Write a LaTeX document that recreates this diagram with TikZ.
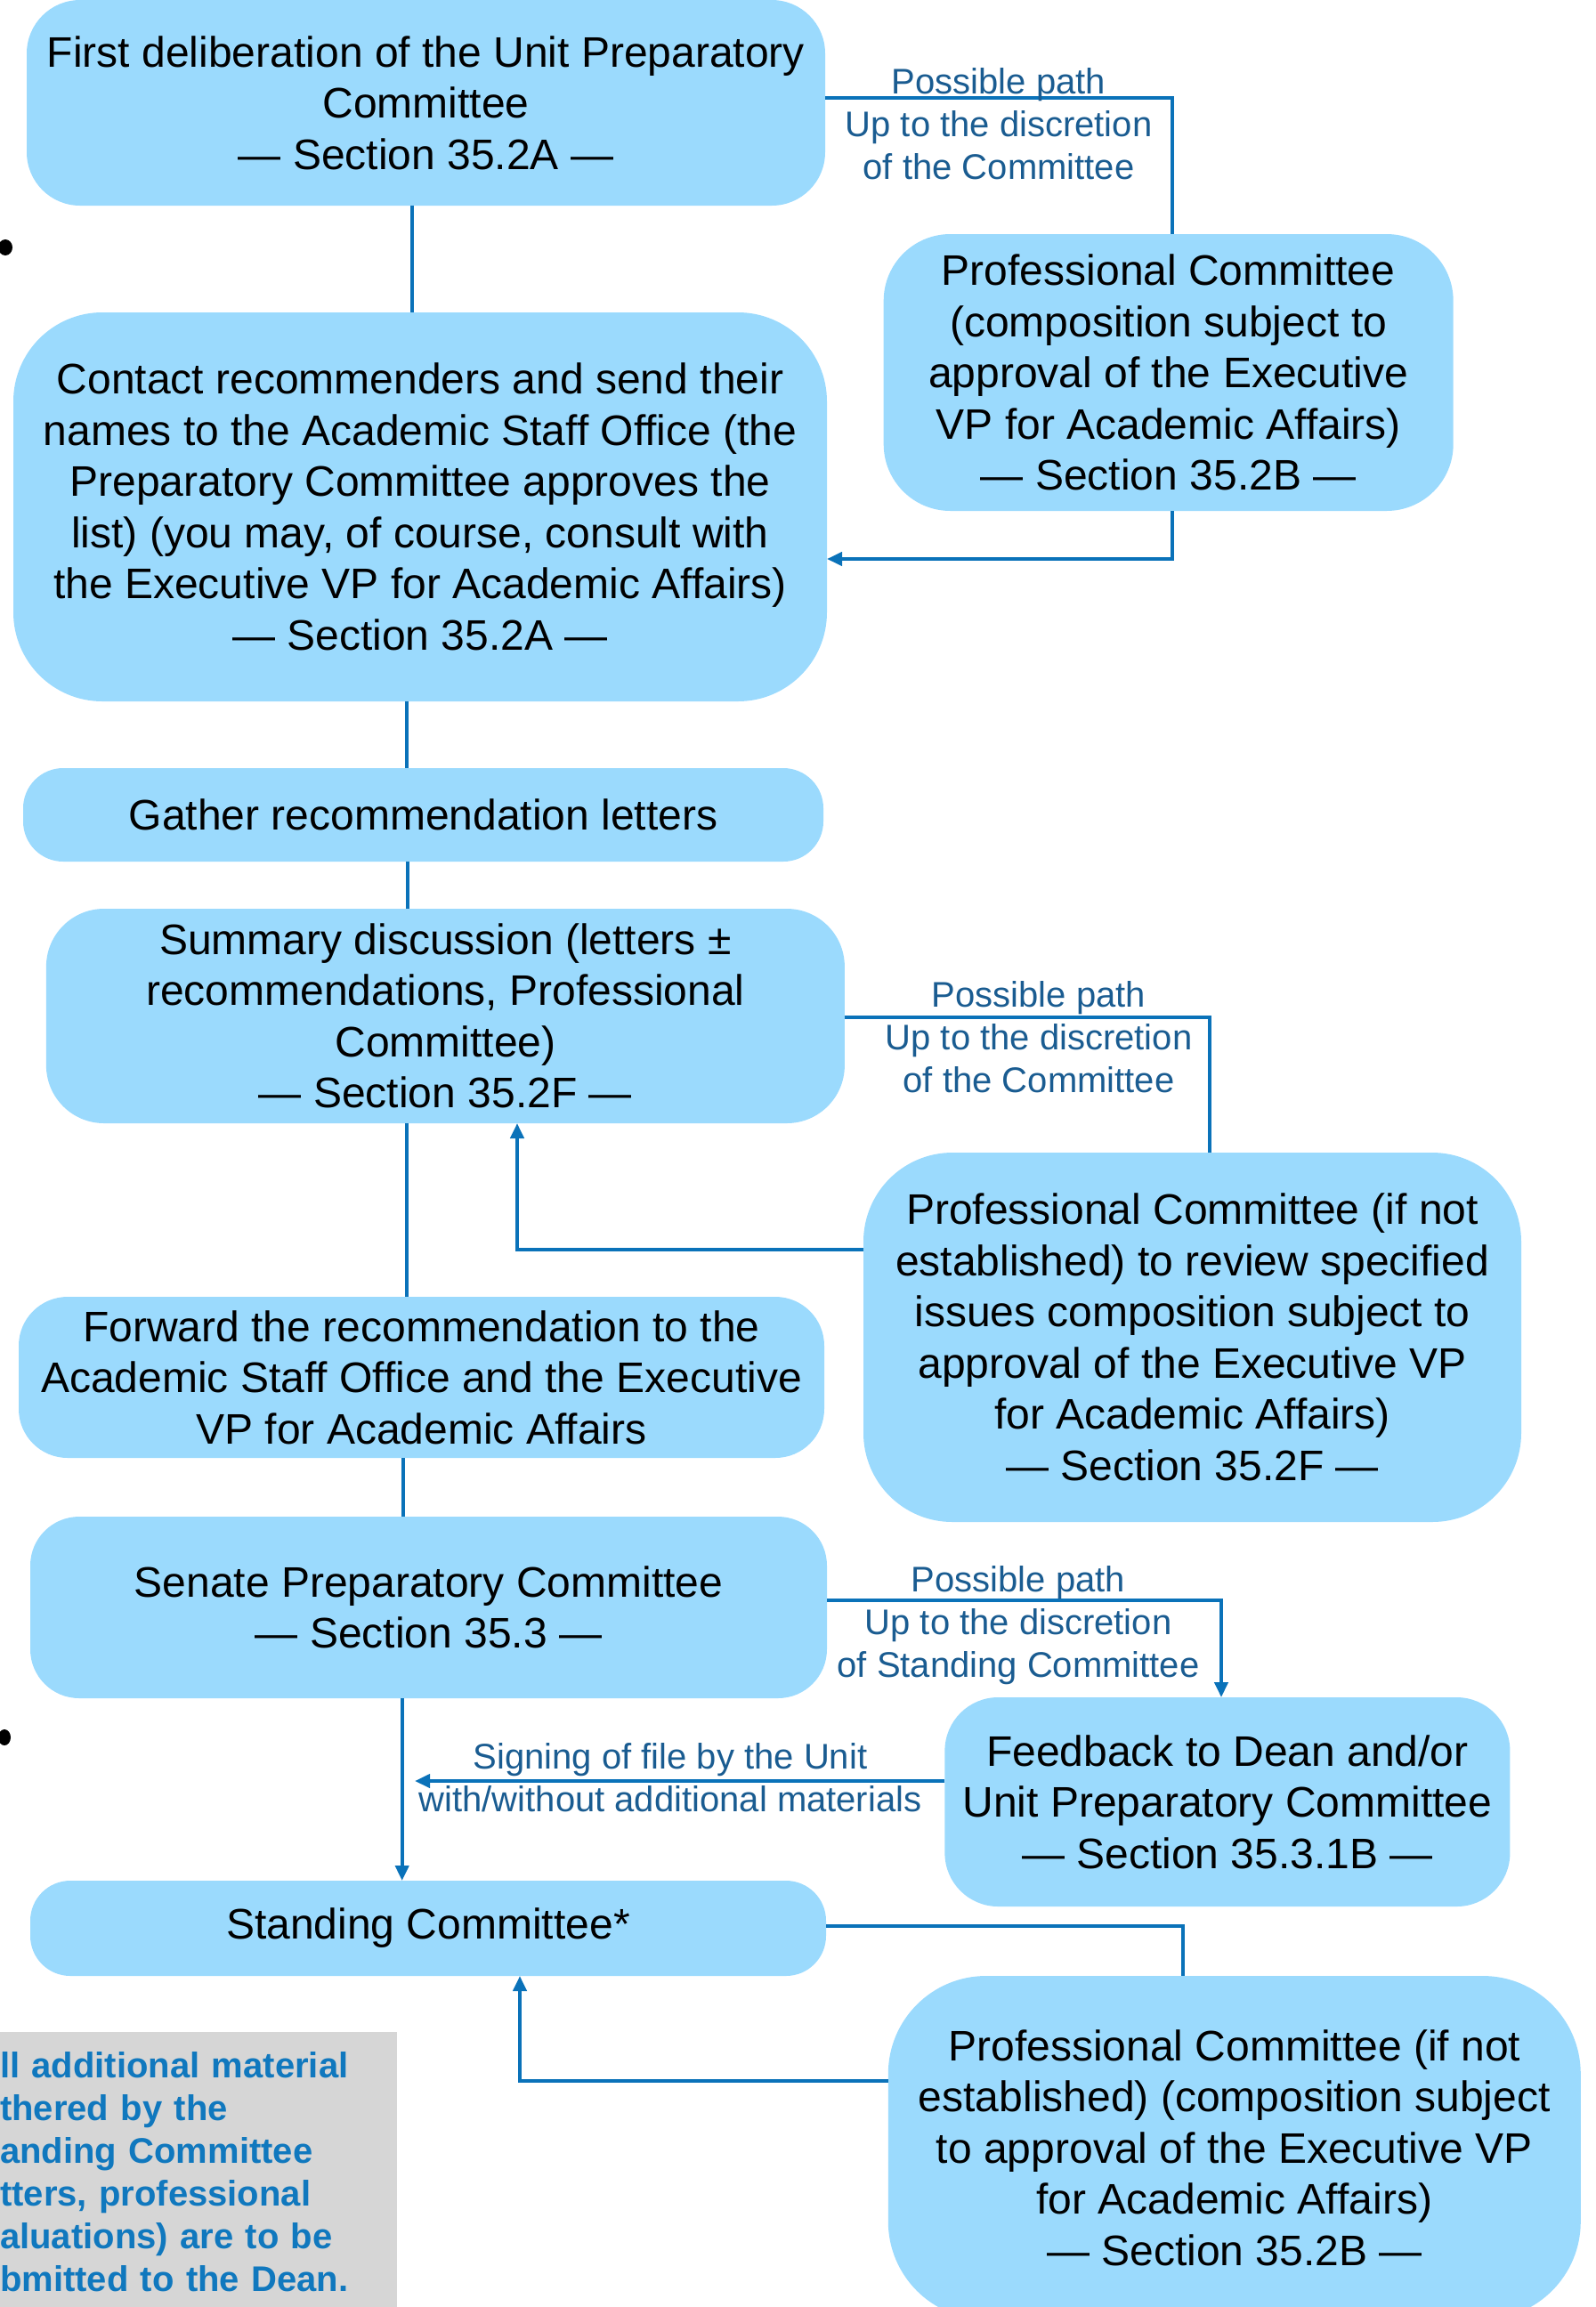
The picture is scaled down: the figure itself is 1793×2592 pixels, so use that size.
\documentclass[tikz,border=0pt]{standalone}
\usepackage{fontspec}
\setmainfont{Liberation Sans}
\usetikzlibrary{arrows.meta,calc}
\definecolor{boxfill}{RGB}{155,218,253}
\definecolor{linecol}{RGB}{10,114,185}
\definecolor{labcol}{RGB}{26,92,145}
\definecolor{notegray}{RGB}{214,214,214}
\definecolor{notetext}{RGB}{16,120,190}
\begin{document}
\begin{tikzpicture}[x=1pt,y=-1pt,
 box/.style={fill=boxfill, draw=none, align=center, inner sep=0pt, outer sep=0pt,
   font=\fontsize{48}{57.5}\selectfont, text=black},
 lab/.style={align=center, inner sep=0pt, text=labcol, font=\fontsize{40}{48}\selectfont},
 conn/.style={draw=linecol, line width=4pt},
 arr/.style={conn, -{Triangle[length=17pt,width=15pt]}},
]
\useasboundingbox (0,0) rectangle (1793,2592);

% boxes
\node[box, minimum width=897pt, minimum height=231pt, rounded corners=60pt] (b1) at (478.5,115.5)
 {First deliberation of the Unit Preparatory\\Committee\\— Section 35.2A —};
\node[box, minimum width=914pt, minimum height=437pt, rounded corners=100pt] (b2) at (472,569.5)
 {Contact recommenders and send their\\names to the Academic Staff Office (the\\Preparatory Committee approves the\\list) (you may, of course, consult with\\the Executive VP for Academic Affairs)\\— Section 35.2A —};
\node[box, minimum width=640pt, minimum height=311pt, rounded corners=75pt] (p1) at (1312.7,418.5)
 {Professional Committee\\(composition subject to\\approval of the Executive\\VP for Academic Affairs)\\— Section 35.2B —};
\node[box, minimum width=899pt, minimum height=105pt, rounded corners=45pt] (gather) at (475.5,915.5)
 {Gather recommendation letters};
\node[box, minimum width=897pt, minimum height=241pt, rounded corners=65pt] (summary) at (500.4,1141.5)
 {Summary discussion (letters ±\\recommendations, Professional\\Committee)\\— Section 35.2F —};
\node[box, minimum width=739pt, minimum height=415pt, rounded corners=100pt] (p2) at (1339.5,1502.5)
 {Professional Committee (if not\\established) to review specified\\issues composition subject to\\approval of the Executive VP\\for Academic Affairs)\\— Section 35.2F —};
\node[box, minimum width=905pt, minimum height=181pt, rounded corners=55pt] (forward) at (473.5,1547.5)
 {Forward the recommendation to the\\Academic Staff Office and the Executive\\VP for Academic Affairs};
\node[box, minimum width=895pt, minimum height=204pt, rounded corners=55pt] (senate) at (481.5,1806)
 {Senate Preparatory Committee\\— Section 35.3 —};
\node[box, minimum width=635pt, minimum height=235pt, rounded corners=60pt] (feedback) at (1378.9,2024.5)
 {Feedback to Dean and/or\\Unit Preparatory Committee\\— Section 35.3.1B —};
\node[box, minimum width=894pt, minimum height=107pt, rounded corners=45pt] (standing) at (481,2166.5)
 {Standing Committee*};
\node[box, minimum width=778pt, minimum height=386pt, rounded corners=110pt] (p3) at (1386.8,2413)
 {Professional Committee (if not\\established) (composition subject\\to approval of the Executive VP\\for Academic Affairs)\\— Section 35.2B —};

% note box
\node[fill=notegray, anchor=north west, minimum width=446pt, minimum height=314pt,
  text width=446pt, align=left, inner sep=0pt, text=notetext,
  font=\fontsize{40}{48}\selectfont\bfseries] (note) at (0,2283)
 {ll additional material\\thered by the\\anding Committee\\tters, professional\\aluations) are to be\\bmitted to the Dean.};

% stray marks at left edge
\fill[black] (6,278) ellipse (8pt and 9pt);
\fill[black] (5,1952) ellipse (7pt and 9pt);

% helper coordinates
\coordinate (xa) at (462.6,0);
\coordinate (xb) at (1317.2,0);
\coordinate (xc) at (456.6,0);
\coordinate (xd) at (458,0);
\coordinate (xe) at (1359,0);
\coordinate (xf) at (581,0);
\coordinate (xg) at (456.6,0);
\coordinate (xh) at (452.7,0);
\coordinate (xi) at (1372,0);
\coordinate (xj) at (451.7,0);
\coordinate (xk) at (1329,0);
\coordinate (xl) at (584,0);
\coordinate (ya) at (0,110);
\coordinate (yb) at (0,628);
\coordinate (yc) at (0,1143);
\coordinate (yd) at (0,1404);
\coordinate (ye) at (0,1798);
\coordinate (yf) at (0,2001);
\coordinate (yg) at (0,2164);
\coordinate (yh) at (0,2338);
\coordinate (sigend) at (466,2001);

% connectors
\draw[conn] (b1.south -| xa) -- (b2.north -| xa);
\draw[conn] (b1.east |- ya) -- (xb |- ya) -- (p1.north -| xb);
\draw[arr] (p1.south -| xb) -- (xb |- yb) -- (b2.east |- yb);
\draw[conn] (b2.south -| xc) -- (gather.north -| xc);
\draw[conn] (gather.south -| xd) -- (summary.north -| xd);
\draw[conn] (summary.east |- yc) -- (xe |- yc) -- (p2.north -| xe);
\draw[arr] (p2.west |- yd) -- (xf |- yd) -- (summary.south -| xf);
\draw[conn] (summary.south -| xg) -- (forward.north -| xg);
\draw[conn] (forward.south -| xh) -- (senate.north -| xh);
\draw[arr] (senate.east |- ye) -- (xi |- ye) -- (feedback.north -| xi);
\draw[arr] (feedback.west |- yf) -- (sigend);
\draw[arr] (senate.south -| xj) -- (standing.north -| xj);
\draw[conn] (standing.east |- yg) -- (xk |- yg) -- (p3.north -| xk);
\draw[arr] (p3.west |- yh) -- (xl |- yh) -- (standing.south -| xl);

% labels
\node[lab] (lab1) at (1122,139) {Possible path\\Up to the discretion\\of the Committee};
\node[lab] (lab2) at (1167,1165) {Possible path\\Up to the discretion\\of the Committee};
\node[lab] (lab3) at (1144,1826) {Possible path\\Up to the discretion\\of Standing Committee};
\node[lab] (lab4) at (753,1997) {Signing of file by the Unit\\with/without additional materials};
\end{tikzpicture}
\end{document}
